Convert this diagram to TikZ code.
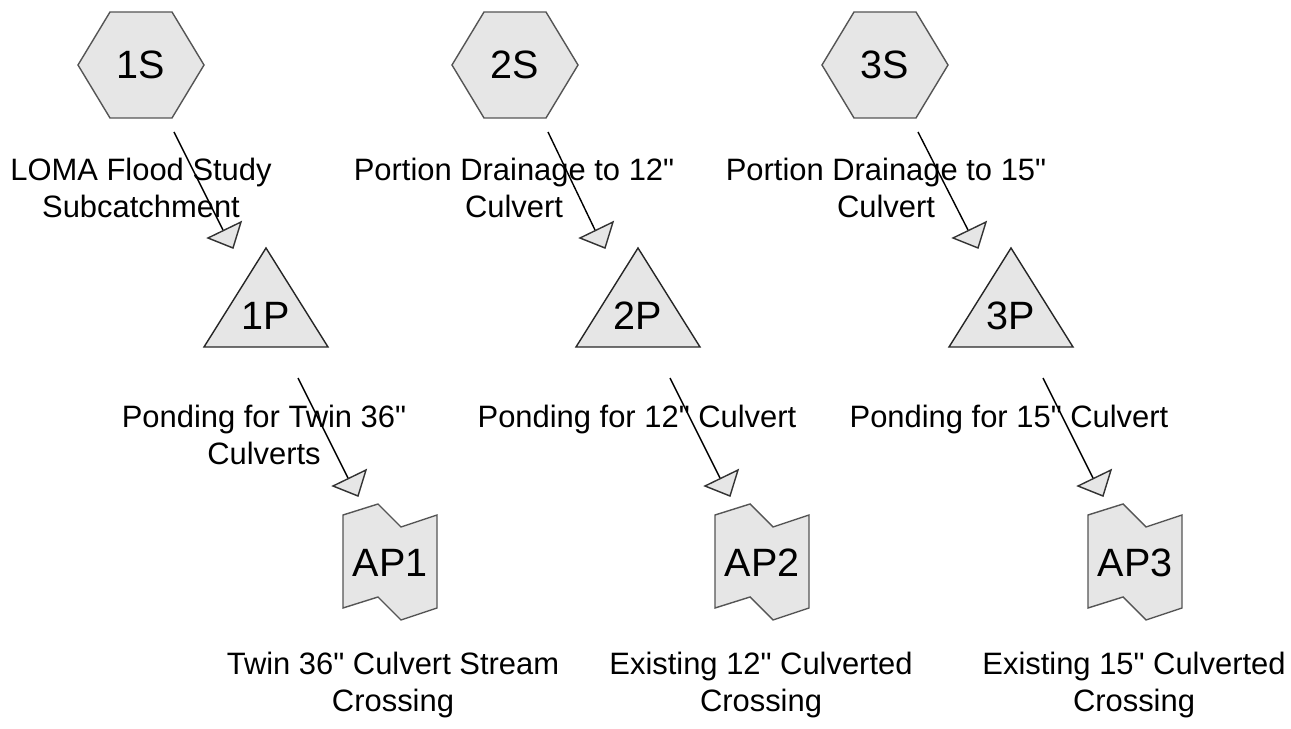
\documentclass[tikz,border=0pt]{standalone}
\usepackage{fontspec}
\setmainfont{Liberation Sans}[Ligatures=TeXOff]
\definecolor{shapefill}{HTML}{E6E6E6}
\definecolor{shapeline}{HTML}{555555}
\tikzset{
	shapebox/.style={draw=shapeline, fill=shapefill, line width=0.8pt, line join=miter},
	pondbox/.style={draw=black!85, fill=shapefill, line width=0.8pt},
	tag/.style={inner sep=0pt, font=\fontsize{22.5}{26}\selectfont},
	caption/.style={inner sep=0pt, anchor=north, align=center, font=\fontsize{17.6}{20.7}\selectfont},
	flow/.style={draw=black, line width=0.8pt},
	flowtip/.style={draw=black!80, fill=shapefill, line width=0.8pt, line join=miter}
}
% subcatchment (hexagon), pond (triangle), link (AP)
\newcommand\subcat[3]{%
	\filldraw[shapebox, shift={(#2)}] (-63,0) -- (-31,-53) -- (31,-53) -- (63,0) -- (31,53) -- (-31,53) -- cycle;
	\node[tag] (#1) at (#2) {#3};}
\newcommand\pondat[3]{%
	\filldraw[pondbox, shift={(#2)}] (0,-68) -- (62,31) -- (-62,31) -- cycle;
	\node[tag] (#1) at (#2) {#3};}
\newcommand\linkat[3]{%
	\filldraw[shapebox, shift={(#2)}] (-47,-48) -- (-12,-59) -- (11,-36) -- (47,-48) -- (47,45) -- (11,57) -- (-12,34) -- (-47,45) -- cycle;
	\node[tag] (#1) at (#2) {#3};}
\newcommand\tipat[1]{%
	\filldraw[flowtip, shift={(#1)}] (-15,8) -- (18,-8) -- (10,18) -- cycle;}

\begin{document}
\begin{tikzpicture}[x=0.02cm, y=-0.02cm]
	\useasboundingbox (0,0) rectangle (1291,729);
	
	% nodes
	\subcat{s1}{141,65}{1S}
	\subcat{s2}{515,65}{2S}
	\subcat{s3}{885,65}{3S}
	\pondat{p1}{266,316}{1P}
	\pondat{p2}{638,316}{2P}
	\pondat{p3}{1011,316}{3P}
	\linkat{ap1}{390,563}{AP1}
	\linkat{ap2}{762,563}{AP2}
	\linkat{ap3}{1135,563}{AP3}
	
	% captions
	\node[caption] (s1txt) at (141,158) {LOMA Flood Study\\Subcatchment};
	\node[caption] (s2txt) at (514,158) {Portion Drainage to 12"\\Culvert};
	\node[caption] (s3txt) at (886,158) {Portion Drainage to 15"\\Culvert};
	\node[caption] (p1txt) at (264,405) {Ponding for Twin 36"\\Culverts};
	\node[caption] (p2txt) at (637,405) {Ponding for 12" Culvert};
	\node[caption] (p3txt) at (1009,405) {Ponding for 15" Culvert};
	\node[caption] (ap1txt) at (393,652) {Twin 36" Culvert Stream\\Crossing};
	\node[caption] (ap2txt) at (761,652) {Existing 12" Culverted\\Crossing};
	\node[caption] (ap3txt) at (1134,652) {Existing 15" Culverted\\Crossing};
	
	% connectors
	\foreach \up/\down in {s1/p1, s2/p2, s3/p3} {
		\coordinate (\up end) at ([shift={(-43,-86)}]\down.center);
		\draw[flow] ([shift={(33,67)}]\up.center) -- (\up end);
		\tipat{\up end}
	}
	\foreach \up/\down in {p1/ap1, p2/ap2, p3/ap3} {
		\coordinate (\up end) at ([shift={(-42,-85)}]\down.center);
		\draw[flow] ([shift={(32,62)}]\up.center) -- (\up end);
		\tipat{\up end}
	}
\end{tikzpicture}
\end{document}
